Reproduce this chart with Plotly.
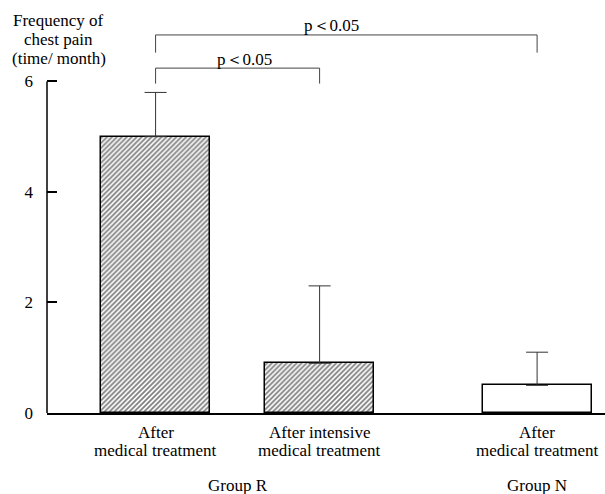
import plotly.graph_objects as go

# ---- data ----
categories = ["After\nmedical treatment", "After intensive\nmedical treatment", "After\nmedical treatment"]
groups = ["Group R", "Group R", "Group N"]
means = [5.0, 0.9, 0.5]
sd_upper = [0.8, 1.4, 0.6]
hatched = [True, True, False]
y_ticks = [0, 2, 4, 6]
comparisons = [(0, 1, "p\uff1c0.05"), (0, 2, "p\uff1c0.05")]
y_title = ["Frequency of", "chest pain", "(time/ month)"]

# ---- layout constants ----
x_pos = [1.0, 2.0, 3.326]
bar_width = 0.665
x_range = [0.338, 3.74]
y_range = [0, 7.4]
FONT = "Liberation Serif"
# bracket geometry (data units): leg bottom, top, text y, text x offset
bracket_geom = [
    dict(bottom=5.96, top=6.24, text_y=6.40, text_dx=0.04),
    dict(bottom=6.52, top=6.84, text_y=7.02, text_dx=-0.09),
]

fig = go.Figure()
fig.add_trace(go.Bar(
    x=x_pos, y=means, width=bar_width,
    marker=dict(
        color="white",
        line=dict(color="black", width=1.5),
        pattern=dict(shape=["/" if h else "" for h in hatched],
                     fgcolor="black", bgcolor="white", size=3.5, solidity=0.5),
    ),
    error_y=dict(type="data", symmetric=False, array=sd_upper,
                 arrayminus=[0] * len(means), color="#333", thickness=1, width=11),
    showlegend=False,
    hoverinfo="skip",
))

shapes = []
annotations = []
# y axis line only from 0 to 6
shapes.append(dict(type="line", xref="paper", yref="y", x0=0, x1=0,
                   y0=0, y1=max(y_ticks), line=dict(color="black", width=1.5)))

for (i, j, txt), g in zip(comparisons, bracket_geom):
    xa, xb = x_pos[i], x_pos[j]
    path = f"M {xa},{g['bottom']} L {xa},{g['top']} L {xb},{g['top']} L {xb},{g['bottom']}"
    shapes.append(dict(type="path", xref="x", yref="y", path=path,
                       line=dict(color="#444", width=1)))
    annotations.append(dict(x=(xa + xb) / 2 + g["text_dx"], y=g["text_y"], xref="x", yref="y",
                            text=txt, showarrow=False,
                            font=dict(family=FONT, size=17, color="black")))

# category labels
for xp, lab in zip(x_pos, categories):
    for k, line in enumerate(lab.split("\n")):
        annotations.append(dict(x=xp, y=0, xref="x", yref="y", text=line, showarrow=False,
                                yanchor="middle", yshift=-(19 + 18 * k),
                                font=dict(family=FONT, size=17, color="black")))

# group labels
for gname in dict.fromkeys(groups):
    xs = [xp for xp, gg in zip(x_pos, groups) if gg == gname]
    annotations.append(dict(x=sum(xs) / len(xs), y=0, xref="x", yref="y", text=gname,
                            showarrow=False, yanchor="middle", yshift=-72,
                            font=dict(family=FONT, size=17, color="black")))

# y title lines
for k, line in enumerate(y_title):
    annotations.append(dict(x=0.0215, y=1, xref="paper", yref="paper", text=line,
                            showarrow=False, xanchor="center", yanchor="middle",
                            yshift=-16 - 19 * k,
                            font=dict(family=FONT, size=17, color="black")))

fig.update_layout(
    width=605, height=494,
    margin=dict(l=47, r=0, t=4, b=81),
    paper_bgcolor="white", plot_bgcolor="white",
    bargap=0,
    hovermode=False,
    shapes=shapes, annotations=annotations,
    font=dict(family=FONT, size=17, color="black"),
    xaxis=dict(range=x_range, showline=True, linecolor="black", linewidth=1.5,
               showgrid=False, zeroline=False, showticklabels=False, ticks=""),
    yaxis=dict(range=y_range, showline=False, showgrid=False, zeroline=False,
               tickvals=y_ticks, ticks="inside", ticklen=10, tickwidth=1.5,
               tickcolor="black", ticklabelstandoff=13,
               tickfont=dict(family=FONT, size=17, color="black")),
)

fig.write_html("out.html", config={"displayModeBar": False},
               post_script="document.body.style.margin='0px';document.body.style.overflow='hidden';")
